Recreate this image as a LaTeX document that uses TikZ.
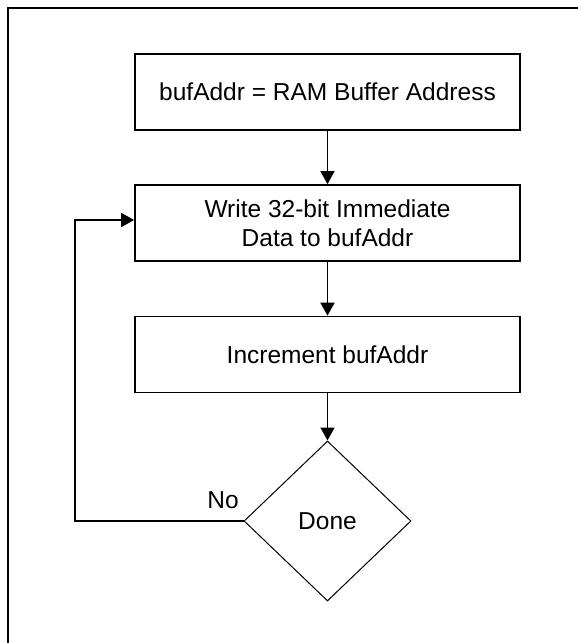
\documentclass[tikz,border=0pt]{standalone}
\usepackage{fontspec}
\setmainfont{Liberation Sans}
\usepackage{tikz}
\usetikzlibrary{shapes.geometric}
\usetikzlibrary{arrows.meta}
\newcommand{\flowfont}{\fontsize{24.5}{29}\selectfont}

\begin{document}
\begin{tikzpicture}[x=1pt,y=-1pt,
    procbox/.style={draw,line width=1.7pt,minimum width=385pt,minimum height=76pt,align=center,font=\flowfont},
    decision/.style={draw,diamond,line width=1pt,minimum width=167pt,minimum height=160pt,inner sep=0pt,font=\flowfont},
    flow/.style={line width=1.7pt,-{Triangle[length=13pt,width=14pt]}}]
    \useasboundingbox (0,0) rectangle (578,643);
    %frame
    \draw[line width=2.5pt] (8,643) -- (8,8) -- (578,8);
    %steps
    \node[procbox] (addr) at (327.5,92) {bufAddr = RAM Buffer Address};
    \node[procbox] (write) at (327.5,223) {Write 32-bit Immediate\\Data to bufAddr};
    \node[procbox] (incr) at (327.5,354.5) {Increment bufAddr};
    \node[decision] (done) at (327.5,521) {Done};
    \draw[flow] (addr) -- (write);
    \draw[flow] (write) -- (incr);
    \draw[flow] (incr) -- (done);
    %loop back
    \coordinate (back) at (75,521);
    \draw[flow] (done.west) -- (back) |- ([yshift=3pt]write.west);
    \node[font=\flowfont] (no) at (223,500) {No};
\end{tikzpicture}
\end{document}
